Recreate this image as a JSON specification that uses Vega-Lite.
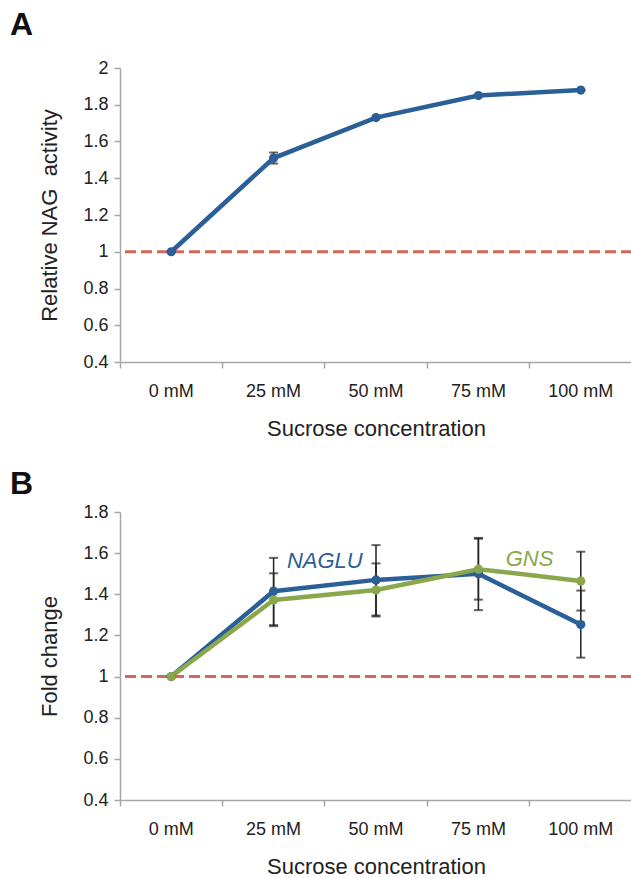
{
  "$schema": "https://vega.github.io/schema/vega-lite/v6.json",
  "background": "white",
  "padding": {"left": 10, "top": 9, "right": 0, "bottom": 0},
  "config": {
    "font": "Liberation Sans",
    "view": {"stroke": null},
    "axis": {
      "domainColor": "#a6a6a6", "tickColor": "#a6a6a6", "domainWidth": 1.5, "tickWidth": 1.5,
      "labelFont": "Liberation Sans", "labelFontSize": 18, "labelColor": "#222222",
      "titleFont": "Liberation Sans", "titleFontSize": 22, "titleFontWeight": "normal", "titleColor": "#222222",
      "grid": false, "labelOverlap": false
    },
    "axisX": {"labelAngle": 0, "bandPosition": 0, "tickSize": 6, "labelPadding": 14, "titlePadding": 18},
    "axisY": {"format": "~g", "tickSize": 6, "labelPadding": 6, "titlePadding": 21, "labelOverlap": false, "labelFlush": false},
    "title": {"font": "Liberation Sans", "fontSize": 32, "fontWeight": "bold", "color": "#111111", "anchor": "start", "frame": "group"}
  },
  "datasets": {
    "a": [
      {"conc": "0 mM", "value": 1.0, "lower": 1.0, "upper": 1.0},
      {"conc": "25 mM", "value": 1.51, "lower": 1.48, "upper": 1.54},
      {"conc": "50 mM", "value": 1.73, "lower": 1.73, "upper": 1.73},
      {"conc": "75 mM", "value": 1.85, "lower": 1.85, "upper": 1.85},
      {"conc": "100 mM", "value": 1.88, "lower": 1.88, "upper": 1.88}
    ],
    "b": [
      {"gene": "NAGLU", "conc": "0 mM", "value": 1.0, "lower": 1.0, "upper": 1.0},
      {"gene": "NAGLU", "conc": "25 mM", "value": 1.415, "lower": 1.25, "upper": 1.577},
      {"gene": "NAGLU", "conc": "50 mM", "value": 1.47, "lower": 1.297, "upper": 1.639},
      {"gene": "NAGLU", "conc": "75 mM", "value": 1.5, "lower": 1.323, "upper": 1.674},
      {"gene": "NAGLU", "conc": "100 mM", "value": 1.253, "lower": 1.092, "upper": 1.418},
      {"gene": "GNS", "conc": "0 mM", "value": 1.0, "lower": 1.0, "upper": 1.0},
      {"gene": "GNS", "conc": "25 mM", "value": 1.372, "lower": 1.245, "upper": 1.502},
      {"gene": "GNS", "conc": "50 mM", "value": 1.421, "lower": 1.292, "upper": 1.55},
      {"gene": "GNS", "conc": "75 mM", "value": 1.522, "lower": 1.374, "upper": 1.67},
      {"gene": "GNS", "conc": "100 mM", "value": 1.465, "lower": 1.321, "upper": 1.607}
    ],
    "labels": [
      {"gene": "NAGLU", "conc": "25 mM", "value": 1.56, "shift": 0},
      {"gene": "GNS", "conc": "75 mM", "value": 1.57, "shift": 9}
    ],
    "ref": [{"level": 1}]
  },
  "spacing": 29,
  "vconcat": [
    {
      "title": {"text": "A", "dx": -110, "offset": 17},
      "width": 512,
      "height": 294,
      "layer": [
        {
          "data": {"name": "a"},
          "mark": {"type": "rule", "color": "#222222", "strokeWidth": 1.5},
          "encoding": {
            "x": {"field": "conc", "type": "ordinal", "sort": ["0 mM", "25 mM", "50 mM", "75 mM", "100 mM"],
                  "scale": {"type": "band", "paddingInner": 0, "paddingOuter": 0},
                  "axis": {"title": "Sucrose concentration"}},
            "y": {"field": "lower", "type": "quantitative",
                  "scale": {"domain": [0.4, 2], "nice": false, "zero": false},
                  "axis": {"title": "Relative NAG\u00a0 activity", "values": [0.4, 0.6, 0.8, 1, 1.2, 1.4, 1.6, 1.8, 2], "tickCount": 9}},
            "y2": {"field": "upper"}
          }
        },
        {
          "data": {"name": "ref"},
          "mark": {"type": "rule", "color": "#d4665e", "strokeWidth": 3, "strokeDash": [11, 5]},
          "encoding": {"y": {"field": "level", "type": "quantitative", "axis": {"title": "Relative NAG\u00a0 activity", "values": [0.4, 0.6, 0.8, 1, 1.2, 1.4, 1.6, 1.8, 2], "tickCount": 9}}}
        },
        {
          "data": {"name": "a"},
          "mark": {"type": "tick", "color": "#222222", "size": 9, "thickness": 2, "orient": "horizontal"},
          "encoding": {"x": {"field": "conc", "type": "ordinal", "sort": ["0 mM", "25 mM", "50 mM", "75 mM", "100 mM"]}, "y": {"field": "lower", "type": "quantitative", "axis": {"title": "Relative NAG\u00a0 activity", "values": [0.4, 0.6, 0.8, 1, 1.2, 1.4, 1.6, 1.8, 2], "tickCount": 9}}}
        },
        {
          "data": {"name": "a"},
          "mark": {"type": "tick", "color": "#222222", "size": 9, "thickness": 2, "orient": "horizontal"},
          "encoding": {"x": {"field": "conc", "type": "ordinal", "sort": ["0 mM", "25 mM", "50 mM", "75 mM", "100 mM"]}, "y": {"field": "upper", "type": "quantitative", "axis": {"title": "Relative NAG\u00a0 activity", "values": [0.4, 0.6, 0.8, 1, 1.2, 1.4, 1.6, 1.8, 2], "tickCount": 9}}}
        },
        {
          "data": {"name": "a"},
          "mark": {"type": "line", "color": "#2a5f97", "strokeWidth": 4.5, "point": {"filled": true, "size": 85, "color": "#2a5f97"}},
          "encoding": {
            "x": {"field": "conc", "type": "ordinal", "sort": ["0 mM", "25 mM", "50 mM", "75 mM", "100 mM"]},
            "y": {"field": "value", "type": "quantitative", "axis": {"title": "Relative NAG\u00a0 activity", "values": [0.4, 0.6, 0.8, 1, 1.2, 1.4, 1.6, 1.8, 2], "tickCount": 9}}
          }
        }
      ]
    },
    {
      "title": {"text": "B", "dx": -110, "offset": 2},
      "width": 512,
      "height": 288,
      "layer": [
        {
          "data": {"name": "ref"},
          "mark": {"type": "rule", "color": "#d4665e", "strokeWidth": 3, "strokeDash": [11, 5]},
          "encoding": {"y": {"field": "level", "type": "quantitative",
                  "scale": {"domain": [0.4, 1.8], "nice": false, "zero": false},
                  "axis": {"title": "Fold change", "values": [0.4, 0.6, 0.8, 1, 1.2, 1.4, 1.6, 1.8], "tickCount": 8}}}
        },
        {
          "data": {"name": "b"},
          "mark": {"type": "rule", "color": "#222222", "strokeWidth": 1.5},
          "encoding": {
            "x": {"field": "conc", "type": "ordinal", "sort": ["0 mM", "25 mM", "50 mM", "75 mM", "100 mM"],
                  "scale": {"type": "band", "paddingInner": 0, "paddingOuter": 0},
                  "axis": {"title": "Sucrose concentration"}},
            "y": {"field": "lower", "type": "quantitative", "axis": {"title": "Fold change", "values": [0.4, 0.6, 0.8, 1, 1.2, 1.4, 1.6, 1.8], "tickCount": 8}}, "y2": {"field": "upper"}}
        },
        {
          "data": {"name": "b"},
          "mark": {"type": "tick", "color": "#222222", "size": 9, "thickness": 2, "orient": "horizontal"},
          "encoding": {"x": {"field": "conc", "type": "ordinal", "sort": ["0 mM", "25 mM", "50 mM", "75 mM", "100 mM"]}, "y": {"field": "lower", "type": "quantitative", "axis": {"title": "Fold change", "values": [0.4, 0.6, 0.8, 1, 1.2, 1.4, 1.6, 1.8], "tickCount": 8}}}
        },
        {
          "data": {"name": "b"},
          "mark": {"type": "tick", "color": "#222222", "size": 9, "thickness": 2, "orient": "horizontal"},
          "encoding": {"x": {"field": "conc", "type": "ordinal", "sort": ["0 mM", "25 mM", "50 mM", "75 mM", "100 mM"]}, "y": {"field": "upper", "type": "quantitative", "axis": {"title": "Fold change", "values": [0.4, 0.6, 0.8, 1, 1.2, 1.4, 1.6, 1.8], "tickCount": 8}}}
        },
        {
          "data": {"name": "b"},
          "mark": {"type": "line", "strokeWidth": 4.5, "point": {"filled": true, "size": 85}},
          "encoding": {
            "x": {"field": "conc", "type": "ordinal", "sort": ["0 mM", "25 mM", "50 mM", "75 mM", "100 mM"]},
            "y": {"field": "value", "type": "quantitative", "axis": {"title": "Fold change", "values": [0.4, 0.6, 0.8, 1, 1.2, 1.4, 1.6, 1.8], "tickCount": 8}},
            "color": {"field": "gene", "type": "nominal", "scale": {"domain": ["NAGLU", "GNS"], "range": ["#2a5f97", "#8aa84b"]}, "legend": null}
          }
        },
        {
          "data": {"name": "labels"},
          "mark": {"type": "text", "fontSize": 22, "fontStyle": "italic", "align": "center", "baseline": "middle"},
          "encoding": {
            "x": {"field": "conc", "type": "ordinal", "sort": ["0 mM", "25 mM", "50 mM", "75 mM", "100 mM"], "bandPosition": 1},
            "y": {"field": "value", "type": "quantitative", "axis": {"title": "Fold change", "values": [0.4, 0.6, 0.8, 1, 1.2, 1.4, 1.6, 1.8], "tickCount": 8}},
            "text": {"field": "gene"},
            "dx": {"field": "shift", "type": "quantitative", "scale": null},
            "color": {"field": "gene", "type": "nominal", "legend": null}
          }
        }
      ]
    }
  ]
}
